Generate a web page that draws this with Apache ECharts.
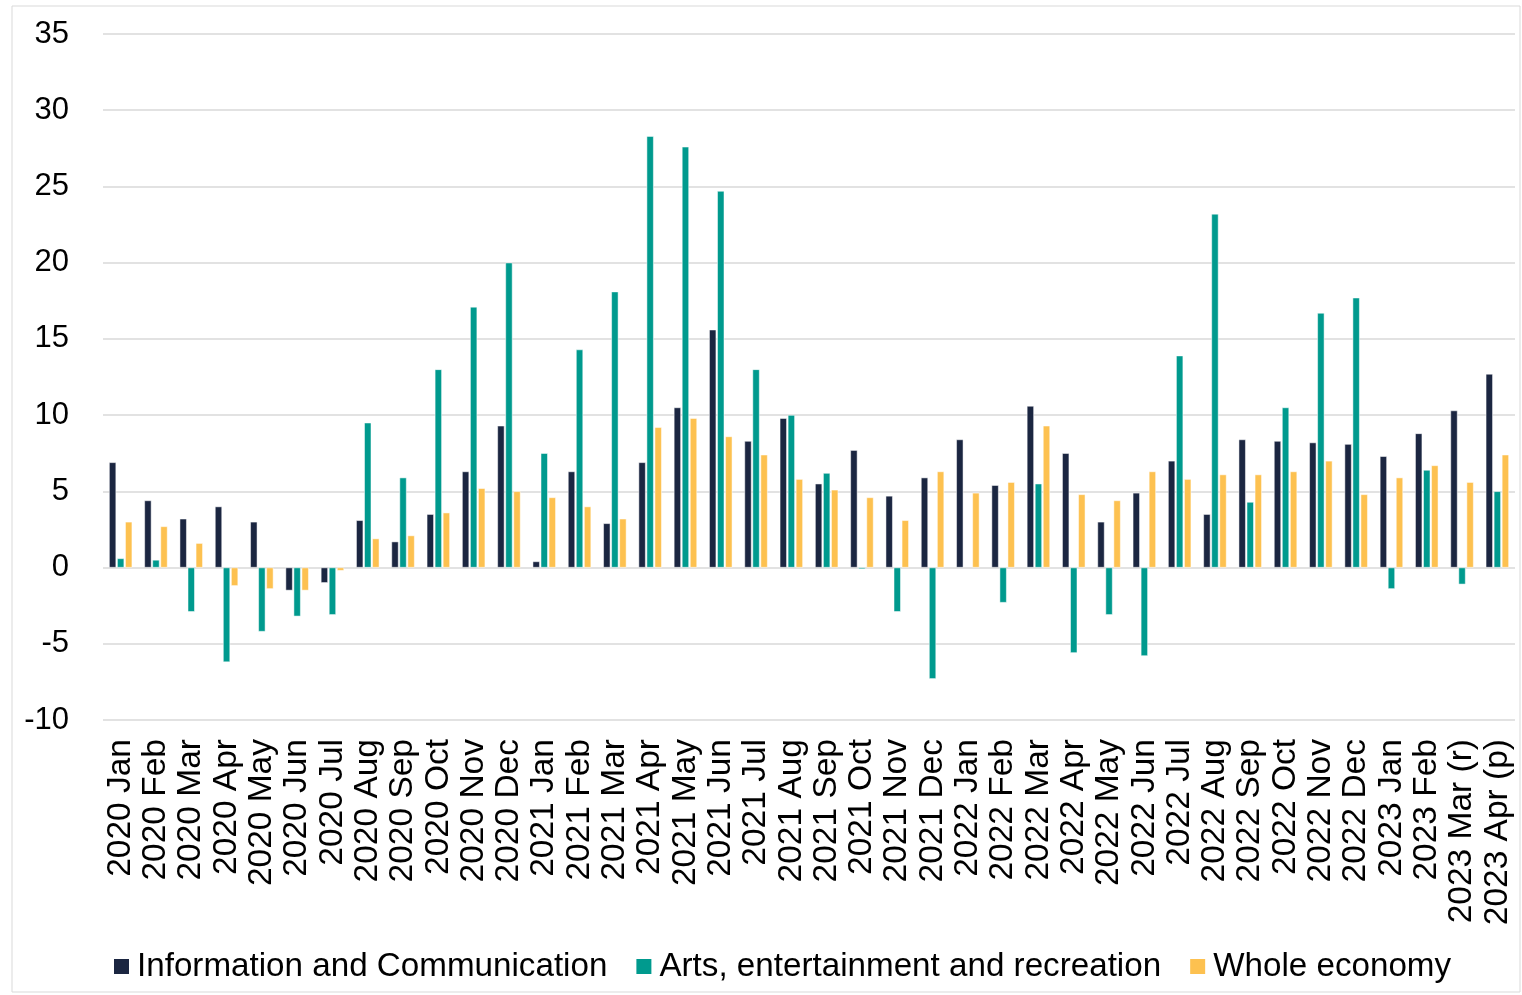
<!DOCTYPE html>
<html>
<head>
<meta charset="utf-8">
<script src="https://cdn.jsdelivr.net/npm/echarts@6/dist/echarts.min.js"></script>
<style>
html,body{margin:0;padding:0;background:#fff;}
#chart{width:1522px;height:995px;}
</style>
</head>
<body>
<div id="chart"></div>
<script>
const categories = [
  "2020 Jan","2020 Feb","2020 Mar","2020 Apr","2020 May","2020 Jun","2020 Jul","2020 Aug","2020 Sep","2020 Oct","2020 Nov","2020 Dec",
  "2021 Jan","2021 Feb","2021 Mar","2021 Apr","2021 May","2021 Jun","2021 Jul","2021 Aug","2021 Sep","2021 Oct","2021 Nov","2021 Dec",
  "2022 Jan","2022 Feb","2022 Mar","2022 Apr","2022 May","2022 Jun","2022 Jul","2022 Aug","2022 Sep","2022 Oct","2022 Nov","2022 Dec",
  "2023 Jan","2023 Feb","2023 Mar (r)","2023 Apr (p)"
];
const infoComm = [
  6.9,4.4,3.2,4.0,3.0,-1.5,-1.0,3.1,1.7,3.5,6.3,9.3,
  0.4,6.3,2.9,6.9,10.5,15.6,8.3,9.8,5.5,7.7,4.7,5.9,
  8.4,5.4,10.6,7.5,3.0,4.9,7.0,3.5,8.4,8.3,8.2,8.1,
  7.3,8.8,10.3,12.7
];
const arts = [
  0.6,0.5,-2.9,-6.2,-4.2,-3.2,-3.1,9.5,5.9,13.0,17.1,20.0,
  7.5,14.3,18.1,28.3,27.6,24.7,13.0,10.0,6.2,-0.1,-2.9,-7.3,
  null,-2.3,5.5,-5.6,-3.1,-5.8,13.9,23.2,4.3,10.5,16.7,17.7,
  -1.4,6.4,-1.1,5.0
];
const wholeEconomy = [
  3.0,2.7,1.6,-1.2,-1.4,-1.5,-0.2,1.9,2.1,3.6,5.2,5.0,
  4.6,4.0,3.2,9.2,9.8,8.6,7.4,5.8,5.1,4.6,3.1,6.3,
  4.9,5.6,9.3,4.8,4.4,6.3,5.8,6.1,6.1,6.3,7.0,4.8,
  5.9,6.7,5.6,7.4
];
const seriesNames = ["Information and Communication","Arts, entertainment and recreation","Whole economy"];
const colors = ["#1b2641","#009a8e","#fdc150"];

const chart = echarts.init(document.getElementById('chart'));
const fontFam = 'Liberation Sans, Arial, sans-serif';
function bar(name, data, color){
  return {
    name: name, type: 'bar', data: data, barWidth: 7, barGap: '15%',
    itemStyle: {color: color, borderColor: '#ffffff', borderWidth: 0.5},
    emphasis: {disabled: true}
  };
}
chart.setOption({
  animation: false,
  color: colors,
  textStyle: {fontFamily: fontFam},
  graphic: [{
    type: 'rect', silent: true, z: -1,
    shape: {x: 12, y: 6, width: 1508, height: 986},
    style: {fill: 'none', stroke: '#d9d9d9', lineWidth: 1}
  }],
  grid: {left: 103, right: 7, top: 34, bottom: 275, containLabel: false},
  legend: {
    data: seriesNames, left: 112, top: 950, padding: 0,
    itemWidth: 17, itemHeight: 17, itemGap: 27,
    icon: 'rect',
    textStyle: {fontSize: 33.2, color: '#000', fontFamily: fontFam, padding: [0,0,0,2]}
  },
  xAxis: {
    type: 'category', data: categories,
    axisLine: {show: false},
    axisTick: {show: false},
    axisLabel: {rotate: 90, interval: 0, fontSize: 33.5, color: '#000', margin: 19, fontFamily: fontFam}
  },
  yAxis: {
    type: 'value', min: -10, max: 35, interval: 5,
    axisLine: {show: false}, axisTick: {show: false},
    splitLine: {lineStyle: {color: '#d9d9d9', width: 1.5}},
    axisLabel: {fontSize: 31, color: '#000', margin: 34, fontFamily: fontFam}
  },
  series: [
    bar(seriesNames[0], infoComm, colors[0]),
    bar(seriesNames[1], arts, colors[1]),
    bar(seriesNames[2], wholeEconomy, colors[2])
  ]
});
</script>
</body>
</html>
